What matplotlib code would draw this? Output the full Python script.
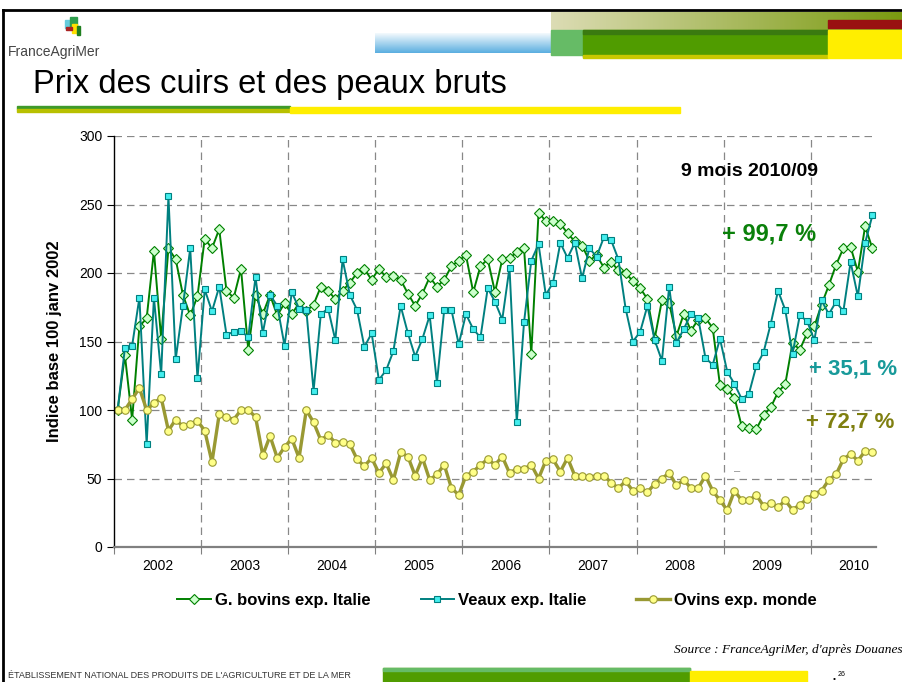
import matplotlib
matplotlib.use("Agg")
import matplotlib.pyplot as plt
import numpy as np
from matplotlib.patches import Rectangle

plt.rcParams['font.family'] = ['Liberation Sans', 'DejaVu Sans']

# monthly index, base 100 = janv 2002, Jan 2002 .. Sep 2010
years = ['2002', '2003', '2004', '2005', '2006', '2007', '2008', '2009', '2010']

bovins = [100, 140, 93, 161, 167, 216, 152, 218, 210, 184, 169, 183,
          225, 218, 232, 187, 182, 203, 144, 184, 170, 184, 169, 178,
          170, 178, 172, 177, 190, 187, 181, 187, 193, 200, 203, 195,
          203, 197, 198, 195, 185, 176, 185, 197, 190, 195, 205, 209,
          213, 186, 205, 210, 186, 210, 211, 215, 218, 141, 244, 238,
          238, 236, 229, 223, 220, 209, 213, 204, 208, 202, 200, 194,
          189, 181, 152, 180, 178, 154, 170, 158, 166, 167, 160, 118,
          115, 109, 88, 87, 86, 96, 102, 113, 119, 149, 144, 156,
          161, 177, 191, 206, 218, 219, 201, 234, 218]

veaux = [100, 145, 147, 182, 75, 182, 126, 256, 137, 176, 218, 123,
         188, 172, 190, 155, 157, 158, 153, 197, 156, 184, 176, 147,
         186, 174, 173, 114, 170, 174, 151, 210, 184, 173, 146, 156,
         122, 129, 143, 176, 156, 139, 152, 169, 120, 173, 173, 148,
         170, 159, 153, 189, 179, 166, 204, 91, 164, 209, 221, 184,
         193, 222, 211, 222, 196, 218, 212, 226, 224, 210, 174, 150,
         157, 176, 151, 136, 190, 149, 159, 170, 167, 138, 133, 152,
         128, 119, 108, 112, 132, 142, 163, 187, 173, 141, 169, 165,
         151, 180, 170, 179, 172, 208, 183, 222, 242]

ovins = [100, 100, 108, 116, 100, 105, 109, 85, 93, 88, 90, 92,
         85, 62, 97, 95, 93, 100, 100, 95, 67, 81, 65, 73,
         79, 65, 100, 91, 78, 82, 76, 77, 75, 64, 59, 65,
         54, 61, 49, 69, 66, 52, 65, 49, 53, 60, 43, 38,
         52, 55, 60, 64, 60, 66, 54, 57, 57, 60, 50, 63,
         64, 55, 65, 52, 52, 51, 52, 52, 47, 43, 48, 41,
         43, 40, 46, 50, 54, 45, 49, 43, 43, 52, 41, 34,
         27, 41, 34, 34, 38, 30, 32, 29, 34, 27, 31, 35,
         39, 41, 49, 53, 64, 68, 63, 70, 69]

W, H = 903, 682
fig = plt.figure(figsize=(W / 100, H / 100), dpi=100)

# slide decoration, in pixel coordinates
bg = fig.add_axes([0, 0, 1, 1], zorder=0)
bg.set_xlim(0, W)
bg.set_ylim(H, 0)
bg.axis('off')


def grad(x0, x1, y0, y1, c0, c1, vertical=False):
    c0 = np.array(matplotlib.colors.to_rgb(c0))
    c1 = np.array(matplotlib.colors.to_rgb(c1))
    t = np.linspace(0, 1, 100)
    row = c0[None, :] * (1 - t[:, None]) + c1[None, :] * t[:, None]
    img = row[:, None, :] if vertical else row[None, :, :]
    bg.imshow(img, extent=(x0, x1, y1, y0), aspect='auto', interpolation='bilinear')


grad(375, 551, 33, 53, '#f4fafd', '#5aaee0', vertical=True)
grad(551, 903, 12, 30, '#dcdcb4', '#7a9a10')
bg.add_patch(Rectangle((551, 30), 32, 25, color='#66bb66'))
bg.add_patch(Rectangle((583, 30), 245, 27, color='#509c00'))
bg.add_patch(Rectangle((583, 30), 245, 4, color='#3a7a10'))
bg.add_patch(Rectangle((583, 55), 245, 3, color='#c8c800'))
bg.add_patch(Rectangle((828, 20), 75, 8, color='#991111'))
bg.add_patch(Rectangle((828, 30), 75, 28, color='#ffee00'))

# logo
bg.add_patch(Rectangle((65, 20), 6, 8, color='#66ccdd'))
bg.add_patch(Rectangle((70, 17), 7, 10, color='#2e9e4e'))
bg.add_patch(Rectangle((72, 24), 5, 9, color='#ffe000'))
bg.add_patch(Rectangle((66, 27), 6, 3, color='#aa2222'))
bg.add_patch(Rectangle((77, 26), 3, 9, color='#1f7f1f'))
bg.text(8, 52, 'FranceAgriMer', fontsize=10, color='#444444', va='center')

# frame lines
bg.plot([3, W], [10, 10], color='black', lw=2)
bg.plot([3, 3], [10, H], color='black', lw=2)

bg.text(33, 85, 'Prix des cuirs et des peaux bruts', fontsize=23.5, va='center')
bg.add_patch(Rectangle((17, 106), 273, 3, color='#3f9a2a'))
bg.add_patch(Rectangle((17, 109), 273, 3, color='#b8c000'))
bg.add_patch(Rectangle((290, 107), 390, 6, color='#ffee00'))

# footer
bg.text(8, 675, "ÉTABLISSEMENT NATIONAL DES PRODUITS DE L'AGRICULTURE ET DE LA MER",
        fontsize=6.5, color='#333333', va='center')
bg.add_patch(Rectangle((383, 668), 307, 14, color='#509c00'))
bg.add_patch(Rectangle((383, 668), 307, 3, color='#66bb66'))
bg.add_patch(Rectangle((690, 671), 117, 11, color='#ffee00'))
bg.text(833, 679, '•', fontsize=6, va='center')
bg.text(838, 675, '26', fontsize=5, va='center')
bg.text(903, 650, "Source : FranceAgriMer, d'après Douanes", fontsize=9.6,
        family='Liberation Serif', style='italic', ha='right', va='center')

# chart
ax = fig.add_axes([114 / W, 1 - 547 / H, (876 - 114) / W, (547 - 136) / H], zorder=1)
x = np.arange(len(bovins))
ax.plot(x, bovins, color='#008000', lw=1.4, marker='D', ms=4.8,
        mfc='#ccffcc', mec='#008000', mew=0.8, label='G. bovins exp. Italie')
ax.plot(x, veaux, color='#008080', lw=1.4, marker='s', ms=4.8,
        mfc='#44eeee', mec='#008080', mew=0.8, label='Veaux exp. Italie')
ax.plot(x, ovins, color='#999933', lw=2.4, marker='o', ms=5.4,
        mfc='#ffff88', mec='#999933', mew=0.8, label='Ovins exp. monde')

ax.set_xlim(-0.5, 104.5)
ax.set_ylim(0, 300)
ax.set_yticks(range(0, 301, 50))
bounds = [12 * k - 0.5 for k in range(len(years))]
ax.set_xticks(bounds)
ax.set_xticklabels([''] * len(bounds))
ax.set_xticks([12 * k + 5.5 for k in range(len(years))], minor=True)
ax.set_xticklabels(years, minor=True, fontsize=10)
ax.tick_params(axis='x', which='minor', length=0, pad=9)
ax.tick_params(axis='x', which='major', length=5, color='#808080')
ax.tick_params(axis='y', length=5, labelsize=10)

for v in range(50, 301, 50):
    ax.axhline(v, color='#888888', lw=0.9, ls=(0, (6, 4)), zorder=0)
for b in bounds[1:]:
    ax.axvline(b, color='#888888', lw=0.9, ls=(0, (6, 4)), zorder=0)

ax.spines['top'].set_visible(False)
ax.spines['right'].set_visible(False)
ax.spines['bottom'].set_color('#808080')
ax.spines['bottom'].set_linewidth(1.6)
ax.spines['left'].set_linewidth(1)

ax.set_ylabel('Indice base 100 janv 2002', fontsize=12, fontweight='bold', labelpad=12)

ax.text(750, 172, '9 mois 2010/09', transform=bg.transData, fontsize=14,
        fontweight='bold', ha='center', va='center')
ax.text(722, 234, '+ 99,7 %', transform=bg.transData, fontsize=17,
        fontweight='bold', color='#0a800a', va='center', clip_on=False)
ax.text(809, 369, '+ 35,1 %', transform=bg.transData, fontsize=16,
        fontweight='bold', color='#189a9a', va='center', clip_on=False)
ax.text(806, 422, '+ 72,7 %', transform=bg.transData, fontsize=16,
        fontweight='bold', color='#7f7f10', va='center', clip_on=False)
ax.text(737, 471, '–', transform=bg.transData, fontsize=8,
        color='#888888', ha='center', va='center')

ax.legend(loc='center', bbox_to_anchor=(497 / W, 1 - 600 / H),
          bbox_transform=fig.transFigure, ncol=3, frameon=False,
          prop={'weight': 'bold', 'size': 12}, handlelength=2.0,
          handletextpad=0.25, columnspacing=3.0)

fig.savefig('out.png', dpi=100)
